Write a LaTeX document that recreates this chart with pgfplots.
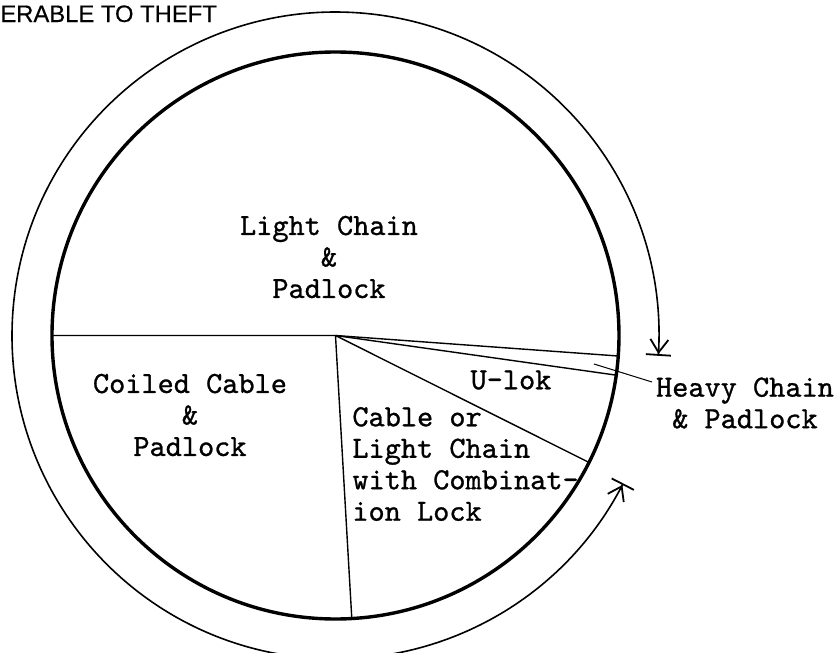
\documentclass[border=0pt]{standalone}
\usepackage{pgfplots}
\pgfplotsset{compat=1.18}
\usepackage{fontspec}
\usetikzlibrary{arrows.meta}
\newfontfamily\titlefont{Liberation Sans}[FakeBold=0.4]
\newfontfamily\lblfont{lmmono10-regular}[Extension=.otf, FakeBold=0.9]
\def\R{141.75pt}
\tikzset{
  lbl/.style={font=\lblfont\fontsize{15.4}{15.75}\selectfont, inner sep=0pt, align=center},
  stop/.tip={Straight Barb[length=6.5pt,width=9pt,line width=0.9pt] Bar[width=12.5pt,line width=0.9pt]},
}
\begin{document}
\begin{tikzpicture}
\useasboundingbox (0,0) rectangle (418.5pt,326.5pt);
\begin{axis}[
  at={(0,0)}, anchor=south west,
  hide axis, clip=false,
  x=\R, y=\R,
  xmin=-1.1834, xmax=1.7690, ymin=-1.1199, ymax=1.1834,
]
% slice boundaries as (angle, radius), shares: 51.2, 1.1, 5.2, 16.7, 25.9 %
\addplot[data cs=polar, black, line width=0.7pt] coordinates {(180,1) (0,0) (-4.15,1)};
\addplot[data cs=polar, black, line width=0.7pt] coordinates {(0,0) (-8.04,1)};
\addplot[data cs=polar, black, line width=0.7pt] coordinates {(0,0) (-26.6,1)};
\addplot[data cs=polar, black, line width=0.7pt] coordinates {(0,0) (-86.7,1)};

\draw[line width=1.7pt] (axis cs:0,0) circle[radius=\R];
\draw[line width=0.8pt, {Bar[width=12.5pt,line width=0.9pt] Straight Barb[length=6.5pt,width=9pt,line width=0.9pt]}-stop]
  (axis cs:0,0) ++(-3.6:1.1411*\R) arc[start angle=-3.6, end angle=332.8, radius=1.1411*\R];

\node[anchor=base west, inner sep=0pt, font=\titlefont\fontsize{11.9}{14}\selectfont]
  at (axis cs:-1.1834,1.1058) {ERABLE TO THEFT};

\node[lbl] at (axis cs:-0.0229,0.2769) {Light Chain\\\&\\Padlock};
\node[lbl] at (axis cs:-0.5132,-0.2804) {Coiled Cable\\\&\\Padlock};
\node[lbl] at (axis cs:0.619,-0.157) {U-lok};
\node[lbl, align=left, anchor=west] at (axis cs:0.0582,-0.4533) {Cable or\\Light Chain\\with Combinat-\\ion Lock};
\node[lbl] at (axis cs:1.4444,-0.2381) {Heavy Chain\\\& Padlock};
\draw[line width=0.5pt] (axis cs:0.9118,-0.1005) -- (axis cs:1.1164,-0.1640);
\end{axis}
\end{tikzpicture}
\end{document}
